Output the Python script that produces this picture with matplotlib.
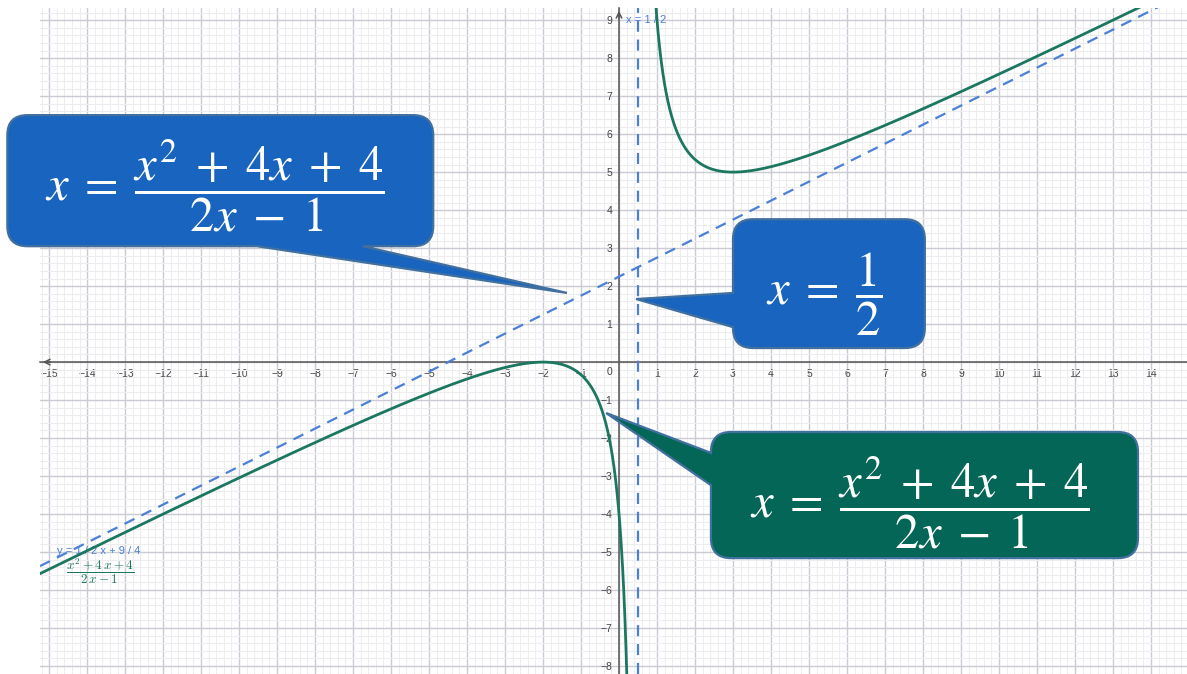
#!/usr/bin/env python3
"""Rational function (x^2+4x+4)/(2x-1) with its asymptotes, GeoGebra style."""

import numpy as np
import matplotlib
matplotlib.use("Agg")
import matplotlib.pyplot as plt
from matplotlib.path import Path
from matplotlib.patches import PathPatch
from matplotlib.ticker import MultipleLocator

# function shown in the picture: numerator / denominator coefficients
num_coef = [1, 4, 4]          # x^2 + 4x + 4
den_coef = [2, -1]            # 2x - 1
pole_x = 0.5                  # vertical asymptote x = 1/2
slant_coef = [0.5, 2.25]      # y = 1/2 x + 9/4

x_ticks = list(range(-15, 15))
y_ticks = list(range(-8, 10))

xlim = (-15.24, 14.95)
ylim = (-8.21, 9.32)

CURVE = "#1b7760"
ASYM = "#4a80d6"
BLUE_BOX = "#1864be"
GREEN_BOX = "#046656"
BOX_EDGE = "#41709e"


def callout_path(x0, y0, x1, y1, r, side, base, tip):
    """Rounded box with a pointed tail on the bottom or left side."""
    verts, codes = [], []

    def add(p, c):
        verts.append(p)
        codes.append(c)

    def corner(c, p):
        add(c, Path.CURVE3)
        add(p, Path.CURVE3)

    add((x0 + r, y0), Path.MOVETO)
    if side == "bottom":
        add((base[0], y0), Path.LINETO)
        add(tip, Path.LINETO)
        add((base[1], y0), Path.LINETO)
    add((x1 - r, y0), Path.LINETO)
    corner((x1, y0), (x1, y0 + r))
    add((x1, y1 - r), Path.LINETO)
    corner((x1, y1), (x1 - r, y1))
    add((x0 + r, y1), Path.LINETO)
    corner((x0, y1), (x0, y1 - r))
    if side == "left":
        add((x0, base[1]), Path.LINETO)
        add(tip, Path.LINETO)
        add((x0, base[0]), Path.LINETO)
    add((x0, y0 + r), Path.LINETO)
    corner((x0, y0), (x0 + r, y0))
    add((x0 + r, y0), Path.CLOSEPOLY)
    return Path(verts, codes)


def callout(ax, box, side, base, tip, face, text, text_xy, size):
    path = callout_path(*box, 0.53, side, base, tip)
    ax.add_patch(PathPatch(path, facecolor=face, edgecolor=BOX_EDGE, lw=1.6,
                           zorder=6, clip_on=False))
    ax.text(*text_xy, text, color="white", fontsize=size, ha="center",
            va="center", math_fontfamily="stix", zorder=7, clip_on=False)


def main():
    fig = plt.figure(figsize=(11.87, 6.74), dpi=100)
    ax = fig.add_axes([40 / 1187, 0, 1147 / 1187, 666 / 674])
    ax.set_xlim(*xlim)
    ax.set_ylim(*ylim)

    # grid
    ax.set_xticks(x_ticks)
    ax.set_yticks(y_ticks)
    ax.xaxis.set_minor_locator(MultipleLocator(0.2))
    ax.yaxis.set_minor_locator(MultipleLocator(0.2))
    ax.grid(which="major", color="#cbcbd3", lw=1.0, zorder=0)
    ax.grid(which="minor", color="#ededf0", lw=0.8, zorder=0)
    ax.set_axisbelow(True)

    # axes through the origin
    for side in ("top", "right"):
        ax.spines[side].set_visible(False)
    for side in ("left", "bottom"):
        ax.spines[side].set_position("zero")
        ax.spines[side].set_color("#555555")
        ax.spines[side].set_linewidth(1.1)
    ax.tick_params(which="both", length=0, labelsize=7.5, labelcolor="#444444",
                   pad=5)
    ax.set_xticklabels(["" if v == 0 else f"\u2212{-v}" if v < 0 else str(v)
                        for v in x_ticks], family="Liberation Sans")
    ax.set_yticklabels(["" if v == 0 else f"\u2212{-v}" if v < 0 else str(v)
                        for v in y_ticks], family="Liberation Sans")
    ax.text(-0.25, -0.12, "0", fontsize=7.5, color="#444444", ha="center",
            va="top", family="Liberation Sans")
    ax.annotate("", xy=(xlim[0], 0), xytext=(xlim[0] + 0.35, 0),
                arrowprops=dict(arrowstyle="->", color="#555555", lw=1.1))
    ax.annotate("", xy=(0, ylim[1]), xytext=(0, ylim[1] - 0.35),
                arrowprops=dict(arrowstyle="->", color="#555555", lw=1.1))

    # asymptotes
    ax.axvline(pole_x, color=ASYM, lw=1.6, ls=(0, (5, 3.5)), zorder=3)
    xs = np.array(xlim)
    ax.plot(xs, np.polyval(slant_coef, xs), color=ASYM, lw=1.6,
            ls=(0, (5, 3.5)), zorder=3)

    # the two branches of the curve
    for lo, hi in ((xlim[0], pole_x - 1e-4), (pole_x + 1e-4, xlim[1])):
        x = np.linspace(lo, hi, 4000)
        y = np.polyval(num_coef, x) / np.polyval(den_coef, x)
        ax.plot(x, y, color=CURVE, lw=2.0, zorder=4)

    # GeoGebra object labels
    ax.text(0.18, 9.0, "x = 1 / 2", color=ASYM, fontsize=8, va="center",
            family="Liberation Sans")
    ax.text(-14.8, -4.97, "y = 1 / 2 x + 9 / 4", color=ASYM, fontsize=8,
            va="center", family="Liberation Sans")
    ax.text(-13.65, -5.5, r"$\dfrac{x^2 + 4\,x + 4}{2\,x - 1}$", color=CURVE,
            fontsize=9.5, ha="center", va="center", math_fontfamily="cm")

    # callouts
    frac = r"$x\;=\;\dfrac{x^2\;+\;4x\;+\;4}{2x\;-\;1}$"
    callout(ax, (-16.1, 3.05, -4.89, 6.5), "bottom", (-9.53, -6.74),
            (-1.37, 1.82), BLUE_BOX, frac, (-10.63, 4.63), 35)
    callout(ax, (3.0, 0.37, 8.05, 3.76), "left", (0.92, 1.82),
            (0.45, 1.66), BLUE_BOX, r"$x\;=\;\dfrac{1}{2}$", (5.39, 1.78), 35)
    callout(ax, (2.42, -5.16, 13.66, -1.84), "left", (-3.24, -2.39),
            (-0.34, -1.34), GREEN_BOX, frac, (7.92, -3.71), 35)

    fig.savefig("out.png", dpi=100)


if __name__ == "__main__":
    main()
